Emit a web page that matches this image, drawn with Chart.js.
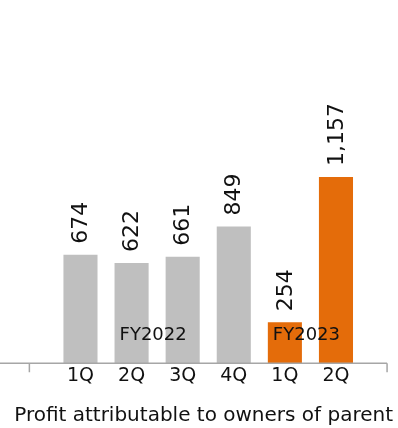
<!DOCTYPE html>
<html>
<head>
<meta charset="utf-8">
<script src="https://cdn.jsdelivr.net/npm/chart.js@4/dist/chart.umd.min.js"></script>
<style>
  html, body { margin: 0; padding: 0; background: #fff; }
</style>
</head>
<body>
<canvas id="profit" width="398" height="428"></canvas>
<script>
// Quarterly profit, FY2022 - FY2023
var quarterLabels = ['1Q', '2Q', '3Q', '4Q', '1Q', '2Q'];
var fiscalYears = ['FY2022', 'FY2022', 'FY2022', 'FY2022', 'FY2023', 'FY2023'];
var profitValues = [674, 622, 661, 849, 254, 1157];

var GRAY = '#BFBFBF';
var ORANGE = '#E46C0A';
var AXIS = '#A6A6A6';
var TEXT = '#111111';
var FONT = "'DejaVu Sans', Verdana, sans-serif";

Chart.defaults.font.family = FONT;
Chart.defaults.color = TEXT;

// baseline with end ticks, value labels above the bars, fiscal year names
var barLabels = {
  id: 'barLabels',
  afterDatasetsDraw: function(chart) {
    var ctx = chart.ctx;
    var x = chart.scales.x;
    var area = chart.chartArea;
    var left = x.getPixelForValue(-1);
    var right = x.getPixelForValue(quarterLabels.length);

    ctx.save();
    ctx.strokeStyle = AXIS;
    ctx.lineWidth = 1.5;
    ctx.beginPath();
    ctx.moveTo(0, area.bottom);
    ctx.lineTo(right, area.bottom);
    ctx.moveTo(left, area.bottom);
    ctx.lineTo(left, area.bottom + 9);
    ctx.moveTo(right, area.bottom);
    ctx.lineTo(right, area.bottom + 9);
    ctx.stroke();

    var meta = chart.getDatasetMeta(0);
    ctx.fillStyle = TEXT;
    ctx.font = '22px ' + FONT;
    ctx.textAlign = 'left';
    ctx.textBaseline = 'middle';
    meta.data.forEach(function(bar, i) {
      ctx.save();
      ctx.translate(bar.x + 1, bar.y - 11);
      ctx.rotate(-Math.PI / 2);
      ctx.fillText(profitValues[i].toLocaleString('en-US'), 0, 0);
      ctx.restore();
    });

    // one label per fiscal year, centred under its bars
    ctx.font = '18px ' + FONT;
    ctx.textAlign = 'center';
    var start = 0;
    for (var i = 1; i <= fiscalYears.length; i++) {
      if (i === fiscalYears.length || fiscalYears[i] !== fiscalYears[start]) {
        var cx = (x.getPixelForValue(start) + x.getPixelForValue(i - 1)) / 2 - 4;
        ctx.fillText(fiscalYears[start], cx, area.bottom - 28);
        start = i;
      }
    }
    ctx.restore();
  }
};

new Chart(document.getElementById('profit'), {
  type: 'bar',
  data: {
    datasets: [{
      data: profitValues.map(function(v, i) { return { x: i, y: v }; }),
      backgroundColor: function(c) {
        return fiscalYears[c.dataIndex] === 'FY2023' ? ORANGE : GRAY;
      },
      barPercentage: 0.667,
      categoryPercentage: 1
    }]
  },
  options: {
    responsive: false,
    devicePixelRatio: 1,
    animation: false,
    layout: { padding: { top: 1, left: 0, right: 5, bottom: 0 } },
    plugins: {
      legend: { display: false },
      tooltip: { enabled: false },
      title: {
        display: true,
        position: 'bottom',
        align: 'end',
        text: 'Profit attributable to owners of parent',
        color: TEXT,
        font: { size: 20, weight: 'normal' },
        padding: { top: 16, bottom: 0 }
      }
    },
    scales: {
      x: {
        type: 'linear',
        offset: false,
        min: -1.575,
        max: 6.116,
        afterBuildTicks: function(s) {
          s.ticks = quarterLabels.map(function(q, i) { return { value: i }; });
        },
        ticks: {
          autoSkip: false,
          maxRotation: 0,
          padding: 1,
          color: TEXT,
          font: { size: 19 },
          callback: function(v) { return quarterLabels[v] || ''; }
        },
        grid: { display: false, drawTicks: false },
        border: { display: false }
      },
      y: {
        display: false,
        min: 0,
        max: 2250
      }
    }
  },
  plugins: [barLabels]
});
</script>
</body>
</html>
